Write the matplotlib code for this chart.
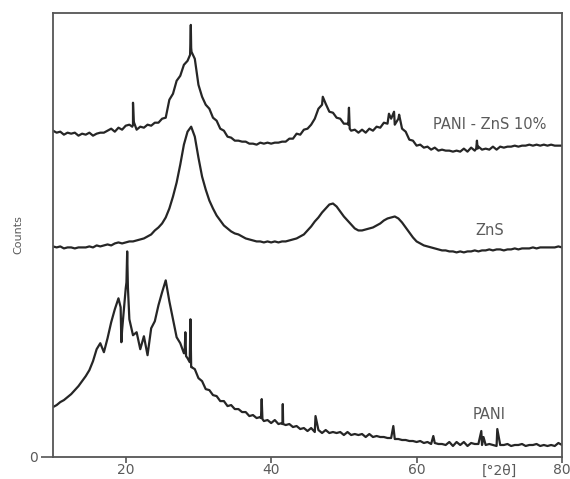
import numpy as np
import matplotlib
matplotlib.use("Agg")
import matplotlib.pyplot as plt

plt.rcParams['font.family'] = ['DejaVu Sans']

# === DATA (2theta grid, 0.5 deg steps, counts in arbitrary units) ===
two_theta = np.arange(10, 80.01, 0.5)

pani_zns = [
    327, 325, 326, 323, 325, 324, 325, 322, 324, 323,
    325, 322, 324, 325, 325, 327, 329, 326, 330, 328,
    332, 333, 333, 328, 331, 330, 333, 332, 335, 335,
    339, 340, 358, 364, 377, 382, 393, 397, 410, 399,
    373, 361, 353, 349, 340, 337, 329, 327, 321, 320,
    317, 317, 316, 316, 314, 314, 313, 315, 314, 315,
    314, 315, 315, 316, 316, 319, 319, 324, 323, 328,
    329, 333, 339, 349, 353, 354, 346, 345, 340, 339,
    334, 334, 327, 328, 325, 328, 325, 329, 327, 331,
    330, 335, 334, 339, 333, 339, 329, 326, 318, 317,
    312, 313, 310, 311, 308, 310, 307, 308, 307, 307,
    306, 307, 306, 309, 306, 310, 307, 311, 308, 309,
    308, 311, 308, 311, 310, 311, 311, 312, 311, 312,
    312, 313, 312, 313, 312, 313, 312, 313, 312, 312,
    312,
]
zns = [
    211, 210, 211, 209, 210, 210, 209, 210, 210, 210,
    211, 210, 212, 211, 212, 213, 212, 214, 215, 214,
    215, 216, 216, 217, 218, 219, 221, 223, 227, 230,
    234, 240, 249, 261, 275, 293, 313, 326, 331, 321,
    300, 281, 268, 257, 249, 242, 237, 232, 229, 226,
    224, 223, 221, 219, 218, 217, 216, 216, 215, 216,
    215, 216, 215, 216, 216, 217, 218, 219, 221, 223,
    227, 231, 236, 240, 245, 249, 253, 254, 251, 246,
    241, 237, 233, 229, 227, 227, 228, 229, 230, 232,
    234, 237, 239, 240, 241, 239, 235, 230, 225, 220,
    216, 214, 212, 211, 210, 209, 208, 207, 207, 206,
    206, 205, 206, 205, 206, 206, 207, 206, 207, 207,
    208, 207, 208, 208, 207, 208, 208, 209, 208, 209,
    209, 209, 210, 209, 210, 210, 210, 210, 210, 211,
    210,
]
pani = [
    50, 52, 55, 57, 60, 63, 67, 71, 76, 81,
    87, 96, 108, 114, 105, 119, 135, 148, 159, 127,
    169, 138, 122, 125, 108, 121, 102, 129, 136, 152,
    165, 177, 156, 138, 120, 114, 104, 99, 90, 88,
    79, 76, 68, 67, 62, 61, 56, 56, 51, 52,
    48, 48, 45, 45, 41, 42, 39, 40, 36, 37,
    34, 37, 33, 34, 32, 33, 30, 31, 28, 29,
    26, 29, 25, 27, 24, 27, 24, 25, 24, 25,
    22, 25, 22, 23, 22, 23, 20, 23, 20, 21,
    20, 20, 19, 19, 18, 18, 17, 17, 16, 16,
    15, 16, 14, 15, 13, 14, 13, 13, 12, 15,
    11, 15, 12, 15, 11, 14, 13, 13, 12, 12,
    13, 12, 11, 12, 12, 13, 11, 12, 12, 13,
    11, 12, 12, 13, 11, 12, 11, 12, 11, 14,
    12,
]

# sharp reflections read between grid points
pani_zns_spike_x = [20.9, 21.0, 21.1, 28.85, 28.95, 29.05, 47.1, 50.6, 50.7, 50.8,
                    56.2, 56.9, 57.6, 68.2, 68.3, 68.4]
pani_zns_spike_y = [331, 355, 336, 403, 433, 406, 361, 333, 350, 329,
                    344, 346, 343, 309, 317, 309]
zns_spike_x = []
zns_spike_y = []
pani_spike_x = [19.3, 19.4, 20.1, 20.2, 20.3, 28.1, 28.2, 28.3, 28.8, 28.9, 29.05,
                38.6, 38.7, 38.8, 41.55, 41.6, 41.65, 46.1, 56.8, 62.3, 68.9, 69.2, 71.1]
pani_spike_y = [150, 115, 175, 206, 170, 104, 125, 101, 95, 138, 90,
                39, 58, 38, 33, 53, 33, 41, 31, 21, 26, 20, 28]

curves = [
    (pani_zns, pani_zns_spike_x, pani_zns_spike_y),
    (zns, zns_spike_x, zns_spike_y),
    (pani, pani_spike_x, pani_spike_y),
]

labels = ["PANI - ZnS 10%", "ZnS", "PANI"]
label_x = [70.0, 70.0, 70.0]
label_y = [333, 227, 43]

# === PLOT ===
fig = plt.figure(figsize=(5.7, 4.79), dpi=100)
ax = fig.add_axes([0.093, 0.046, 0.893, 0.927])

for vals, sx, sy in curves:
    x = np.concatenate([two_theta, sx])
    y = np.concatenate([np.array(vals, float), np.array(sy, float)])
    order = np.argsort(x)
    ax.plot(x[order], y[order], color="#262626", linewidth=1.6)

for lab, lx, ly in zip(labels, label_x, label_y):
    ax.text(lx, ly, lab, ha="center", va="center", fontsize=10.5, color="#5a5a5a")

ax.set_xlim(10, 80)
ax.set_ylim(0, 445)
ax.set_xticks([20, 40, 60, 80])
ax.set_yticks([0])
ax.tick_params(axis="both", colors="#555555", labelcolor="#5a5a5a", labelsize=10,
               length=4, width=1.2, pad=0.5)
ax.tick_params(axis="y", length=9, pad=2)
for s in ax.spines.values():
    s.set_color("#555555")
    s.set_linewidth(1.3)

ax.set_ylabel("Counts", fontsize=8, color="#5a5a5a")
ax.yaxis.set_label_coords(-0.058, 0.5)
ax.text(71.4, -14, "[°2θ]", ha="center", va="center", fontsize=10,
        color="#5a5a5a", clip_on=False)

fig.savefig("out.png", dpi=100)
